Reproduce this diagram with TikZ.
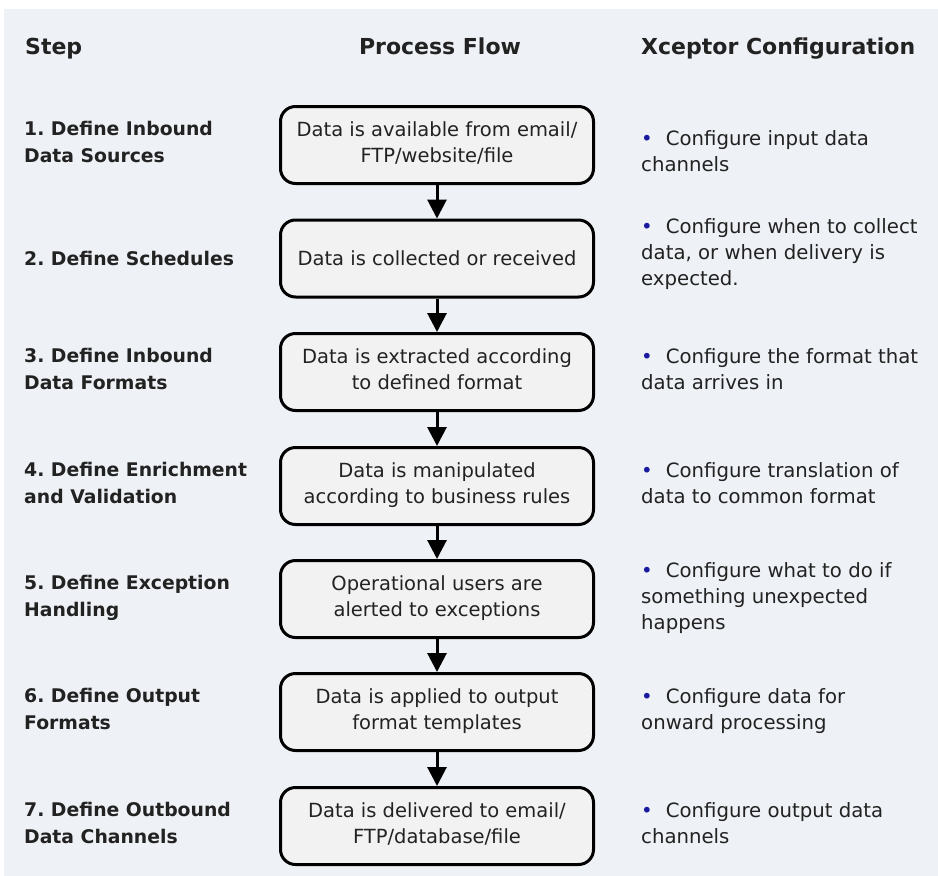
\documentclass[tikz,border=0pt]{standalone}
\usepackage{fontspec}
\setmainfont{DejaVu Sans}
\usetikzlibrary{arrows.meta}
\definecolor{panel}{HTML}{EEF1F5}
\definecolor{boxfill}{HTML}{F2F2F2}
\definecolor{txt}{HTML}{222222}
\definecolor{bul}{HTML}{1A1AA0}
\frenchspacing
\begin{document}
\begin{tikzpicture}[x=1pt,y=-1pt,
  strutted/.style={execute at begin node={\frenchspacing\rule{0pt}{20pt}}, execute at end node={\rule[-6pt]{0pt}{6pt}}},
  flowbox/.style={draw=black, line width=3pt, rounded corners=15pt, fill=boxfill, minimum width=313pt, minimum height=77pt, inner sep=0pt, align=center, text=txt, font=\fontsize{19.5}{26.5}\selectfont, strutted},
  steplabel/.style={anchor=west, align=left, inner sep=0pt, text=txt, font=\bfseries\fontsize{18.8}{27}\selectfont, strutted},
  cfg/.style={anchor=west, align=left, inner sep=0pt, text=txt, font=\fontsize{19.7}{26}\selectfont, strutted},
  header/.style={inner sep=0pt, text=txt, font=\bfseries\fontsize{22}{26}\selectfont, strutted},
  flowarrow/.style={line width=3pt, -{Triangle[width=19pt 0 0,length=19pt 0 0]}}
]
\fill[white] (0,0) rectangle (938,876);
\useasboundingbox (0,0) rectangle (938,876);
\fill[panel] (4,9) rectangle (938,876);

% headers
\node[header, anchor=west] (hstep) at (25,47) {Step};
\node[header, anchor=center] (hflow) at (440,47) {Process Flow};
\node[header, anchor=west] (hcfg) at (641,47) {Xceptor Configuration};

% process boxes
\node[flowbox] (b1) at (437,145) {Data is available from email/\\FTP/website/file};
\node[flowbox] (b2) at (437,258.5) {Data is collected or received};
\node[flowbox] (b3) at (437,372) {Data is extracted according\\to defined format};
\node[flowbox] (b4) at (437,486) {Data is manipulated\\according to business rules};
\node[flowbox] (b5) at (437,599) {Operational users are\\alerted to exceptions};
\node[flowbox] (b6) at (437,712) {Data is applied to output\\format templates};
\node[flowbox] (b7) at (437,826) {Data is delivered to email/\\FTP/database/file};

% arrows
\draw[flowarrow] (b1.south) -- (b2.north);
\draw[flowarrow] (b2.south) -- (b3.north);
\draw[flowarrow] (b3.south) -- (b4.north);
\draw[flowarrow] (b4.south) -- (b5.north);
\draw[flowarrow] (b5.south) -- (b6.north);
\draw[flowarrow] (b6.south) -- (b7.north);

% step labels
\node[steplabel] (s1) at (24,145) {1. Define Inbound\\Data Sources};
\node[steplabel] (s2) at (24,258.5) {2. Define Schedules};
\node[steplabel] (s3) at (24,372) {3. Define Inbound\\Data Formats};
\node[steplabel] (s4) at (24,486) {4. Define Enrichment\\and Validation};
\node[steplabel] (s5) at (24,599) {5. Define Exception\\Handling};
\node[steplabel] (s6) at (24,712) {6. Define Output\\Formats};
\node[steplabel] (s7) at (24,826) {7. Define Outbound\\Data Channels};

% configuration text
\newcommand\bulmark{\textcolor{bul}{•}\hspace{13pt}}
\node[cfg] (c1) at (641,154) {\bulmark Configure input data\\channels};
\node[cfg] (c2) at (641,255.5) {\bulmark Configure when to collect\\data, or when delivery is\\expected.};
\node[cfg] (c3) at (641,372) {\bulmark Configure the format that\\data arrives in};
\node[cfg] (c4) at (641,486) {\bulmark Configure translation of\\data to common format};
\node[cfg] (c5) at (641,599) {\bulmark Configure what to do if\\something unexpected\\happens};
\node[cfg] (c6) at (641,712) {\bulmark Configure data for\\onward processing};
\node[cfg] (c7) at (641,826) {\bulmark Configure output data\\channels};
\end{tikzpicture}
\end{document}
